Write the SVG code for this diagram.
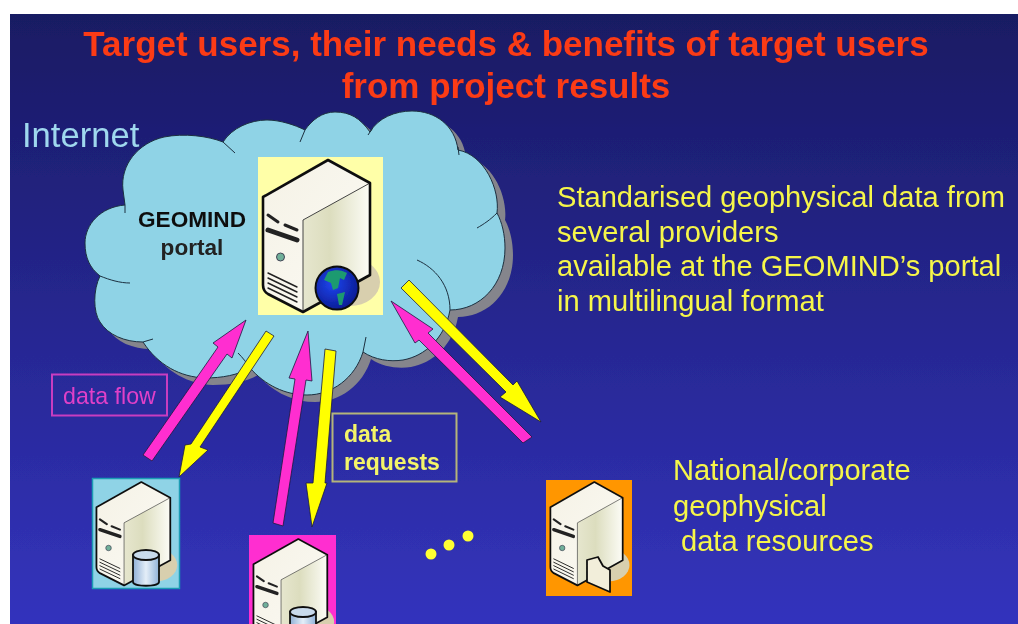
<svg xmlns="http://www.w3.org/2000/svg" width="1018" height="624" viewBox="0 0 1018 624">
<style>
text{font-family:"Liberation Sans",Arial,sans-serif}
.title{font-size:35px;font-weight:700;fill:#fb3a12;text-anchor:middle}
.info{font-size:29.100px;fill:#f6f64a}
.ar{stroke:#1a1a40;stroke-width:.8;stroke-linejoin:round}
.m{fill:#ff2fd0}.y{fill:#ffff00}
.arc{fill:none;stroke:#1c3040;stroke-width:1}
</style>
<defs>
<filter id="soft" x="0" y="0" width="100%" height="100%"><feGaussianBlur stdDeviation=".45"/></filter>
<linearGradient id="bg" x1="0" y1="0" x2="0" y2="1"><stop offset="0" stop-color="#191a63"/><stop offset="1" stop-color="#3333bd"/></linearGradient>
<linearGradient id="front" x1="0" y1="0" x2="1" y2="1"><stop offset="0" stop-color="#f5f2e6"/><stop offset="1" stop-color="#fbfaf4"/></linearGradient>
<linearGradient id="side" x1="0" y1="0" x2="1" y2="0"><stop offset="0" stop-color="#e6e6ce"/><stop offset=".4" stop-color="#dcddbe"/><stop offset="1" stop-color="#fcfcf6"/></linearGradient>
<linearGradient id="can" x1="0" y1="0" x2="1" y2="0"><stop offset="0" stop-color="#8fb0d6"/><stop offset=".5" stop-color="#e4eef8"/><stop offset="1" stop-color="#90b2d8"/></linearGradient>
<radialGradient id="globe" cx=".4" cy=".4" r=".65"><stop offset="0" stop-color="#1f45f0"/><stop offset="1" stop-color="#0a1a90"/></radialGradient>
<path id="cloud" d="M125 205C100 207 85 225 85 243C85 258 90 268 100 276C93 290 93 312 100 322C108 335 125 342 143 342C158 365 180 377 205 378C222 378 238 375 250 368C265 385 285 395 307 395C332 395 355 378 363 352C375 360 390 362 403 360C425 356 445 338 450 310C480 310 505 285 505 248C505 235 502 222 497 213C500 190 485 155 458 150C455 125 435 111 412 111C395 111 378 118 370 132C360 118 350 112 335 112C322 112 312 120 305 130C295 125 280 120 267 120C250 120 232 128 223 142C208 136 184 133 164 137C138 143 120 165 123 190Z"/>
<g id="server">
<ellipse cx="92" cy="125" rx="30" ry="24" fill="#d8cfae"/>
<path d="M70 3L112 26V118L45 155L10 137Q5 134 5 128V40Z" fill="url(#front)"/>
<path d="M45 63L112 26V118L45 155Z" fill="url(#side)"/>
<path d="M45 63L112 26M45 63V155" fill="none" stroke="#444" stroke-width="1"/>
<path d="M70 3L112 26V118L45 155L10 137Q5 134 5 128V40Z" fill="none" stroke="#111" stroke-width="2.600" stroke-linejoin="round"/>
<g fill="none" stroke="#222" stroke-linecap="round">
<path d="M10 58L20 65M27 68L39 73" stroke-width="3"/>
<path d="M10 73L39 83" stroke-width="5"/>
<path d="M10 116L39 130M10 121L39 135M10 126L39 140M10 131L39 145" stroke-width="1.400"/>
</g>
<circle cx="22.500" cy="100" r="4" fill="#6fb09a" stroke="#445" stroke-width="1"/>
</g>
<g id="db">
<path d="M0 0V27C0 32 26 32 26 27V0Z" fill="url(#can)" stroke="#111" stroke-width="1.800"/>
<ellipse cx="13" cy="0" rx="13" ry="5" fill="#c8daec" stroke="#111" stroke-width="1.800"/>
</g>
</defs>
<rect width="1018" height="624" fill="#fff"/>
<g filter="url(#soft)">
<rect x="10" y="14" width="1008" height="610" fill="url(#bg)"/>
<text class="title" x="506" y="56">Target users, their needs &amp; benefits of target users</text>
<text class="title" x="506" y="98">from project results</text>
<text id="internet" x="22" y="147" font-size="34.600" fill="#9fd8ee">Internet</text>
<g id="internet-cloud">
<use href="#cloud" x="8" y="7" fill="#85858c"/>
<use href="#cloud" fill="#8fd3e6" stroke="#1c3040" stroke-width="1"/>
<path class="arc" d="M125 205L125 213M100 276C110 280 120 283 130 283M143 342L153 339M223 142L235 153M305 130L300 142M372 129L368 135M458 147L459 155M497 213C490 220 484 224 477 228M450 310C450 285 435 268 417 260M363 352L366 337M250 368C246 362 243 358 238 353"/>
</g>
<g id="geomind-portal">
<rect x="258" y="157" width="125" height="158" fill="#ffffa8"/>
<use href="#server" x="258" y="157"/>
<circle cx="337" cy="288" r="21.500" fill="url(#globe)" stroke="#111" stroke-width="2"/>
<path d="M328 272C336 269 342 270 347 273L344 280L340 278L338 288L333 290L331 283L324 280ZM337 294L345 292L342 305L339 305Z" fill="#1f9a70"/>
<text x="192" y="227" font-size="22.600" font-weight="700" text-anchor="middle" fill="#111">GEOMIND</text>
<text x="192" y="255" font-size="22.600" font-weight="700" text-anchor="middle" fill="#222">portal</text>
</g>
<g id="connectors">
<polygon class="ar m" points="246,320 232,358 227,354 152,461 143,455 218,347 213,343"/>
<polygon class="ar y" points="266,331 274,336 200,447 208,450 179,477 185,445 191,444"/>
<polygon class="ar m" points="308,331 312,381 306,380 283,526 273,523 295,379 289,378"/>
<polygon class="ar y" points="325,349 336,351 325,483 327,483 312,527 306,483 313,483"/>
<polygon class="ar m" points="391,301 433,329 428,333 532,437 523,443 419,340 415,343"/>
<polygon class="ar y" points="401,288 409,280 513,385 517,381 541,422 500,397 506,392"/>
</g>
<g id="data-flow-label">
<rect x="52" y="374.500" width="115" height="41" fill="none" stroke="#c83cc0" stroke-width="2"/>
<text x="63" y="404" font-size="23.200" fill="#e040c8">data flow</text>
</g>
<g id="data-requests-label">
<rect x="332.500" y="413.500" width="124" height="68" fill="none" stroke="#b4b47a" stroke-width="2"/>
<text x="344" y="442" font-size="23" font-weight="700" fill="#f4f468">data</text>
<text x="344" y="470" font-size="23" font-weight="700" fill="#f4f468">requests</text>
</g>
<g id="node-blue">
<rect x="92.500" y="478.500" width="87" height="110" fill="#8fd3e6" stroke="#1a9cb4" stroke-width="1.500"/>
<g transform="translate(93 480) scale(.69 .68)"><use href="#server"/></g>
<use href="#db" x="133" y="555"/>
</g>
<g id="node-magenta">
<rect x="249" y="535" width="87" height="89" fill="#ff2fd0"/>
<g transform="translate(250 537) scale(.69 .68)"><use href="#server"/></g>
<use href="#db" x="290" y="612"/>
</g>
<g id="node-orange">
<rect x="546" y="480" width="86" height="116" fill="#ff9600"/>
<g transform="translate(547 480) scale(.676 .68)"><use href="#server"/></g>
<path d="M587 560L598 557L603 566L610 570V592L587 582Z" fill="#f2eeda" stroke="#111" stroke-width="1.800" stroke-linejoin="round"/>
</g>
<g id="ellipsis" fill="#ffff30">
<circle cx="431" cy="554" r="5.500"/>
<circle cx="449" cy="545" r="5.500"/>
<circle cx="468" cy="536" r="5.500"/>
</g>
<g id="portal-text">
<text class="info" x="557" y="207">Standarised geophysical data from</text>
<text class="info" x="557" y="242">several providers</text>
<text class="info" x="557" y="276">available at the GEOMIND’s portal</text>
<text class="info" x="557" y="311">in multilingual format</text>
</g>
<g id="resources-text">
<text class="info" x="673" y="480">National/corporate</text>
<text class="info" x="673" y="516">geophysical</text>
<text class="info" x="681" y="551">data resources</text>
</g>
</g>
</svg>
